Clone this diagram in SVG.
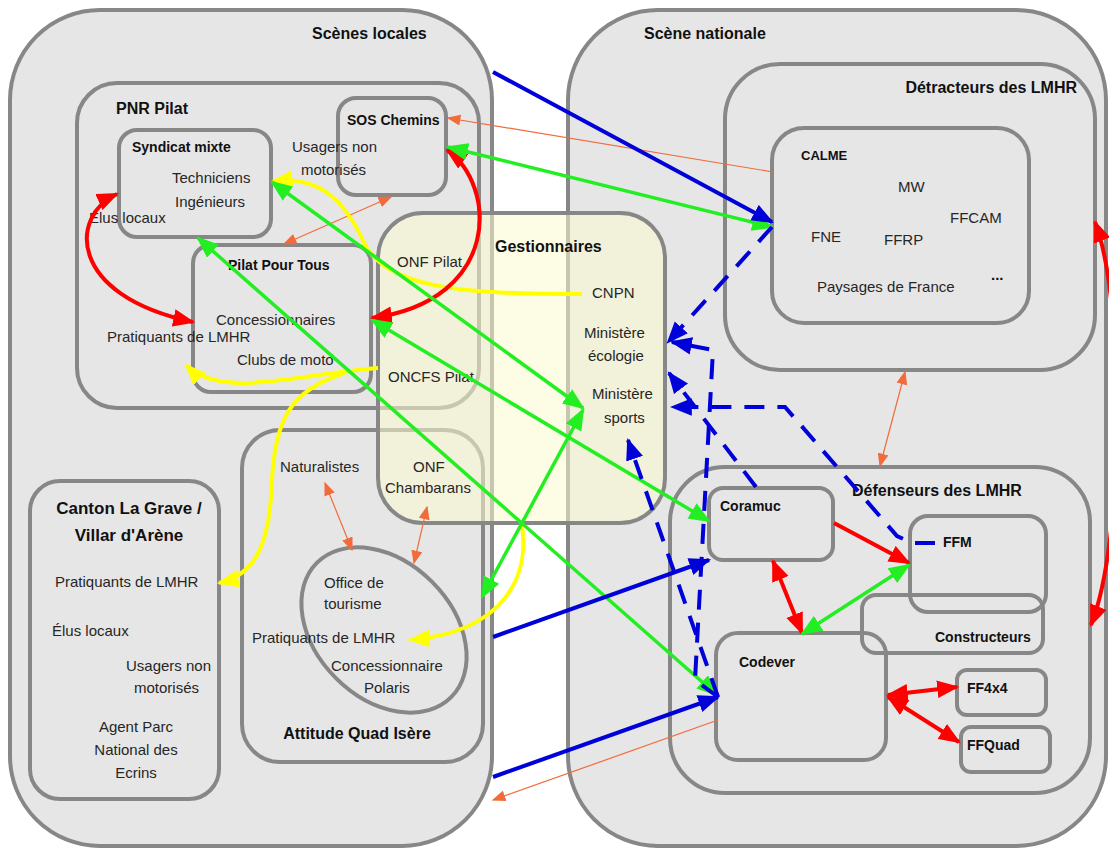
<svg xmlns="http://www.w3.org/2000/svg" width="1109" height="849" viewBox="0 0 1109 849">
<defs>
<style>
.box{fill:#e6e6e6;stroke:#878787;stroke-width:4}
.open{fill:none;stroke:#878787;stroke-width:4}
.ges{fill:rgb(251,249,205);fill-opacity:0.55;stroke:#878787;stroke-width:4}
.t{font-family:"Liberation Sans",Arial,sans-serif;font-size:15px;fill:#262626}
.b{font-family:"Liberation Sans",Arial,sans-serif;font-weight:bold;fill:#111;font-size:14px}
.h{font-size:16px}
.mid{text-anchor:middle}
.c{fill:none;stroke-linecap:butt}
.red{stroke:#ff0000;stroke-width:4}
.grn{stroke:#22ee22;stroke-width:3.5}
.blu{stroke:#0000d8;stroke-width:4}
.dsh{stroke:#0000d8;stroke-width:4;stroke-dasharray:20 13}
.yel{stroke:#ffff00;stroke-width:4}
.org{stroke:#f26b3a;stroke-width:1.2}
</style>
<marker id="mr" viewBox="0 0 10 8" refX="9" refY="4" markerWidth="22" markerHeight="18" markerUnits="userSpaceOnUse" orient="auto-start-reverse"><path d="M0,0 L10,4 L0,8 z" fill="#ff0000"/></marker>
<marker id="mg" viewBox="0 0 10 8" refX="9" refY="4" markerWidth="22" markerHeight="18" markerUnits="userSpaceOnUse" orient="auto-start-reverse"><path d="M0,0 L10,4 L0,8 z" fill="#22ee22"/></marker>
<marker id="mb" viewBox="0 0 10 8" refX="9" refY="4" markerWidth="22" markerHeight="18" markerUnits="userSpaceOnUse" orient="auto-start-reverse"><path d="M0,0 L10,4 L0,8 z" fill="#0000d8"/></marker>
<marker id="my" viewBox="0 0 10 8" refX="9" refY="4" markerWidth="22" markerHeight="18" markerUnits="userSpaceOnUse" orient="auto-start-reverse"><path d="M0,0 L10,4 L0,8 z" fill="#ffff00"/></marker>
<marker id="mo" viewBox="0 0 10 8" refX="9" refY="4" markerWidth="14" markerHeight="11" markerUnits="userSpaceOnUse" orient="auto-start-reverse"><path d="M0,0 L10,4 L0,8 z" fill="#f26b3a"/></marker>
</defs>
<rect width="1109" height="849" fill="#ffffff"/>

<g id="scenes-locales">
<rect class="box" x="10" y="10" width="482" height="836" rx="90"/>
<text class="b h" x="312" y="39">Scènes locales</text>
</g>
<g id="scene-nationale">
<rect class="box" x="568" y="10" width="538" height="836" rx="90"/>
<text class="b h" x="644" y="39">Scène nationale</text>
</g>

<g id="pnr-pilat">
<rect class="box" x="77" y="83" width="402" height="325" rx="40"/>
<text class="b h" x="116" y="114">PNR Pilat</text>
</g>
<g id="syndicat-mixte">
<rect class="box" x="119" y="130" width="152" height="107" rx="18"/>
<text class="b" x="132" y="152">Syndicat mixte</text>
<text class="t" x="172" y="183">Techniciens</text>
<text class="t" x="175" y="207">Ingénieurs</text>
<text class="t" x="89" y="223">Élus locaux</text>
</g>
<g id="sos-chemins">
<rect class="box" x="338" y="98" width="108" height="97" rx="18"/>
<text class="b" x="347" y="125">SOS Chemins</text>
<text class="t" x="292" y="152">Usagers non</text>
<text class="t" x="301" y="175">motorisés</text>
</g>
<g id="pilat-pour-tous">
<rect class="box" x="193" y="245" width="178" height="147" rx="18"/>
<text class="b" x="228" y="270">Pilat Pour Tous</text>
<text class="t" x="216" y="325">Concessionnaires</text>
<text class="t" x="107" y="342">Pratiquants de LMHR</text>
<text class="t" x="237" y="365">Clubs de moto</text>
</g>

<g id="canton-la-grave">
<rect class="box" x="30" y="481" width="189" height="318" rx="30"/>
<text class="b mid" x="129" y="514" style="font-size:17px">Canton La Grave /</text>
<text class="b mid" x="129" y="541" style="font-size:17px">Villar d'Arène</text>
<text class="t" x="55" y="587">Pratiquants de LMHR</text>
<text class="t" x="52" y="636">Élus locaux</text>
<text class="t" x="126" y="671">Usagers non</text>
<text class="t" x="134" y="693">motorisés</text>
<text class="t mid" x="136" y="732">Agent Parc</text>
<text class="t mid" x="136" y="755">National des</text>
<text class="t mid" x="136" y="778">Ecrins</text>
</g>

<g id="attitude-quad-isere">
<rect class="box" x="242" y="430" width="241" height="332" rx="38"/>
<text class="t" x="280" y="472">Naturalistes</text>
<text class="b h mid" x="357" y="739">Attitude Quad Isère</text>
</g>
<g id="office-tourisme">
<ellipse class="open" cx="384" cy="630" rx="95" ry="68" transform="rotate(45 384 630)"/>
<text class="t" x="324" y="588">Office de</text>
<text class="t" x="324" y="609">tourisme</text>
<text class="t" x="252" y="643">Pratiquants de LMHR</text>
<text class="t" x="331" y="671">Concessionnaire</text>
<text class="t" x="364" y="693">Polaris</text>
</g>

<g id="gestionnaires">
<rect class="ges" x="378" y="213" width="287" height="310" rx="45"/>
<text class="b h" x="495" y="252">Gestionnaires</text>
<text class="t" x="397" y="267">ONF Pilat</text>
<text class="t" x="388" y="382">ONCFS Pilat</text>
<text class="t" x="413" y="472">ONF</text>
<text class="t" x="385" y="493">Chambarans</text>
<text class="t" x="592" y="298">CNPN</text>
<text class="t" x="584" y="338">Ministère</text>
<text class="t" x="588" y="361">écologie</text>
<text class="t" x="592" y="399">Ministère</text>
<text class="t" x="604" y="423">sports</text>
</g>

<g id="detracteurs">
<rect class="box" x="725" y="64" width="370" height="306" rx="55"/>
<text class="b h" x="1077" y="93" text-anchor="end">Détracteurs des LMHR</text>
</g>
<g id="calme">
<rect class="box" x="772" y="128" width="257" height="195" rx="32"/>
<text class="b" x="801" y="160" style="font-size:13px">CALME</text>
<text class="t" x="898" y="192">MW</text>
<text class="t" x="950" y="223">FFCAM</text>
<text class="t" x="811" y="242">FNE</text>
<text class="t" x="884" y="245">FFRP</text>
<text class="t" x="817" y="292">Paysages de France</text>
<text class="b" x="991" y="280" style="font-size:15px">...</text>
</g>

<g id="defenseurs">
<rect class="box" x="670" y="467" width="420" height="326" rx="55"/>
<text class="b h" x="852" y="496">Défenseurs des LMHR</text>
</g>
<g id="coramuc">
<rect class="box" x="709" y="488" width="124" height="72" rx="14"/>
<text class="b" x="720" y="511">Coramuc</text>
</g>
<g id="ffm">
<rect class="open" x="910" y="516" width="136" height="96" rx="18"/>
<text class="b" x="943" y="547">FFM</text>
</g>
<g id="constructeurs">
<rect class="open" x="862" y="595" width="181" height="58" rx="14"/>
<text class="b" x="935" y="642">Constructeurs</text>
</g>
<g id="codever">
<rect class="open" x="716" y="633" width="170" height="127" rx="22"/>
<text class="b" x="739" y="667">Codever</text>
</g>
<g id="ff4x4">
<rect class="box" x="957" y="670" width="89" height="45" rx="10"/>
<text class="b" x="967" y="693">FF4x4</text>
</g>
<g id="ffquad">
<rect class="box" x="961" y="727" width="89" height="45" rx="10"/>
<text class="b" x="967" y="750">FFQuad</text>
</g>

<g id="connectors">
<path class="c org" d="M773,172 L448,118" marker-end="url(#mo)"/>
<path class="c org" d="M391,197 L284,244" marker-start="url(#mo)" marker-end="url(#mo)"/>
<path class="c org" d="M325,483 L352,550" marker-start="url(#mo)" marker-end="url(#mo)"/>
<path class="c org" d="M427,507 L414,563" marker-start="url(#mo)" marker-end="url(#mo)"/>
<path class="c org" d="M905,372 L880,466" marker-start="url(#mo)" marker-end="url(#mo)"/>
<path class="c org" d="M718,720 L493,800" marker-end="url(#mo)"/>

<path class="c yel" d="M582,294 C470,294 390,290 365,245 C345,200 320,176 273,181" marker-end="url(#my)"/>
<path class="c yel" d="M378,368 C300,374 220,400 186,365" marker-end="url(#my)"/>
<path class="c yel" d="M345,373 C290,390 275,420 272,480 C270,545 255,575 219,583" marker-end="url(#my)"/>
<path class="c yel" d="M521,520 C532,575 505,632 410,640" marker-end="url(#my)"/>

<path class="c red" d="M117,194 C70,215 66,295 193,322" marker-start="url(#mr)" marker-end="url(#mr)"/>
<path class="c red" d="M447,150 C497,185 502,300 372,318" marker-start="url(#mr)" marker-end="url(#mr)"/>
<path class="c red" d="M773,561 L802,633" marker-start="url(#mr)" marker-end="url(#mr)"/>
<path class="c red" d="M834,523 L909,563" marker-end="url(#mr)"/>
<path class="c red" d="M888,695 L957,687" marker-start="url(#mr)" marker-end="url(#mr)"/>
<path class="c red" d="M888,697 L959,742" marker-start="url(#mr)" marker-end="url(#mr)"/>
<path class="c red" d="M1095,222 C1125,300 1125,540 1091,625" marker-start="url(#mr)" marker-end="url(#mr)"/>

<path class="c grn" d="M448,147 L772,227" marker-start="url(#mg)" marker-end="url(#mg)"/>
<path class="c grn" d="M272,182 L583,408" marker-start="url(#mg)" marker-end="url(#mg)"/>
<path class="c grn" d="M198,238 L717,695" marker-start="url(#mg)" marker-end="url(#mg)"/>
<path class="c grn" d="M372,320 L709,521" marker-start="url(#mg)" marker-end="url(#mg)"/>
<path class="c grn" d="M583,410 L482,597" marker-start="url(#mg)" marker-end="url(#mg)"/>
<path class="c grn" d="M802,634 L909,565" marker-start="url(#mg)" marker-end="url(#mg)"/>

<path class="c blu" d="M493,72 L772,222" marker-end="url(#mb)"/>
<path class="c blu" d="M493,637 L709,560" marker-end="url(#mb)"/>
<path class="c blu" d="M493,777 L718,697" marker-end="url(#mb)"/>

<path class="c dsh" d="M772,227 L668,342" marker-end="url(#mb)"/>
<path class="c dsh" d="M718,697 L695,680 L713,350 L672,342" marker-end="url(#mb)"/>
<path class="c dsh" d="M756,487 L669,373" marker-end="url(#mb)"/>
<path class="c dsh" d="M935,543 L912,543 L897,536 L785,407 L672,407" marker-end="url(#mb)"/>
<path class="c dsh" d="M718,697 L628,440" marker-end="url(#mb)"/>
</g>
</svg>
